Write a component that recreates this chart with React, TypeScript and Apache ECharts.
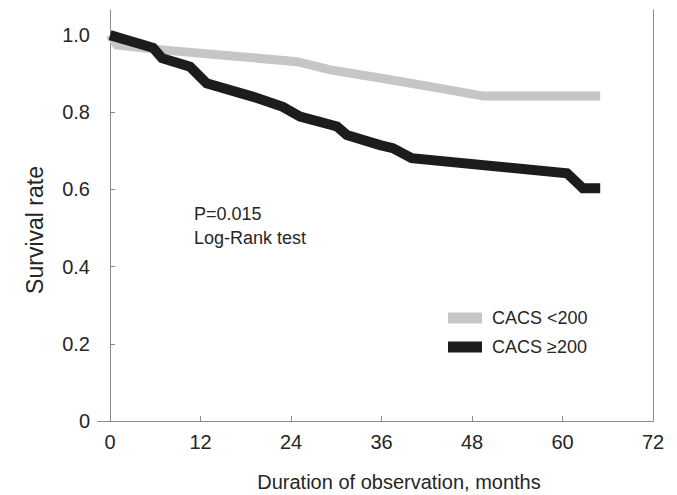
import React, { useEffect, useRef } from "react";
import * as echarts from "echarts";

// Kaplan-Meier style survival curves
const lowMonths = [0, 0.9, 6.2, 15.0, 24.8, 29.2, 36.0, 43.8, 49.5, 65.0];
const lowSurvival = [1.0, 0.974, 0.963, 0.948, 0.931, 0.91, 0.888, 0.862, 0.842, 0.842];

const highMonths = [0, 5.7, 6.9, 10.6, 12.8, 19.0, 22.9, 25.2, 30.1, 31.4, 35.8, 37.5, 40.0, 60.6, 62.7, 65.0];
const highSurvival = [1.0, 0.967, 0.94, 0.918, 0.875, 0.84, 0.814, 0.789, 0.763, 0.741, 0.715, 0.707, 0.681, 0.642, 0.603, 0.603];

const seriesNames = ["CACS <200", "CACS \u2265200"];
const xTicks = [0, 12, 24, 36, 48, 60, 72];
const yTicks = [0, 0.2, 0.4, 0.6, 0.8, 1.0];
const annotations = ["P=0.015", "Log-Rank test"];
const xTitle = "Duration of observation, months";
const yTitle = "Survival rate";

const FONT = "'Liberation Sans', Arial, Helvetica, sans-serif";
const TEXT = "#262626";
const AXIS = "#8a8a8a";

export default function App() {
  const ref = useRef<HTMLDivElement>(null);
  useEffect(() => {
    if (!ref.current) return;
    const chart = echarts.init(ref.current, undefined, { renderer: "svg" });
    const lowData = lowMonths.map((m, i) => [m, lowSurvival[i]]);
    const highData = highMonths.map((m, i) => [m, highSurvival[i]]);
    chart.setOption({
      animation: false,
      backgroundColor: "#fff",
      textStyle: { fontFamily: FONT },
      grid: { left: 98, right: 24, top: 10, bottom: 74, containLabel: false },
      xAxis: {
        type: "value",
        min: -1.6,
        max: 72,
        axisLine: { show: true, lineStyle: { color: AXIS, width: 1 } },
        axisTick: { show: true, inside: true, length: 5, lineStyle: { color: AXIS }, customValues: xTicks },
        axisLabel: {
          customValues: xTicks,
          color: TEXT,
          fontSize: 20,
          fontFamily: FONT,
          margin: 11,
          formatter: (v: number) => String(v),
        },
        splitLine: { show: false },
      },
      yAxis: [
        {
          type: "value",
          min: 0,
          max: 1.065,
          axisLine: { show: true, lineStyle: { color: AXIS, width: 1 } },
          axisTick: { show: true, inside: true, length: 5, lineStyle: { color: AXIS }, customValues: yTicks },
          axisLabel: {
            customValues: yTicks,
            color: TEXT,
            fontSize: 20,
            fontFamily: FONT,
            margin: 8,
            formatter: (v: number) => (v === 0 ? "0" : v.toFixed(1)),
          },
          splitLine: { show: false },
        },
        {
          type: "value",
          position: "right",
          min: 0,
          max: 1.065,
          axisLine: { show: true, lineStyle: { color: AXIS, width: 1 } },
          axisTick: { show: false },
          axisLabel: { show: false },
          splitLine: { show: false },
        },
      ],
      legend: {
        orient: "vertical",
        left: 448,
        top: 309,
        padding: 0,
        itemWidth: 34,
        itemHeight: 11,
        itemGap: 11,
        icon: "rect",
        textStyle: { color: TEXT, fontSize: 18, fontFamily: FONT, padding: [0, 0, 0, 5] },
        data: seriesNames,
      },
      series: [
        {
          name: seriesNames[0],
          type: "line",
          data: lowData,
          showSymbol: false,
          symbol: "none",
          color: "#c6c6c6",
          lineStyle: { color: "#c6c6c6", width: 9, join: "miter" },
          z: 2,
        },
        {
          name: seriesNames[1],
          type: "line",
          data: highData,
          showSymbol: false,
          symbol: "none",
          color: "#1c1c1c",
          lineStyle: { color: "#1c1c1c", width: 10, join: "miter" },
          z: 3,
        },
      ],
      graphic: [
        {
          type: "text",
          left: 194,
          top: 205,
          style: { text: annotations[0], fill: TEXT, fontSize: 18, fontFamily: FONT },
        },
        {
          type: "text",
          left: 194,
          top: 229,
          style: { text: annotations[1], fill: TEXT, fontSize: 18, fontFamily: FONT },
        },
        {
          type: "text",
          x: 399,
          y: 482,
          style: { text: xTitle, fill: TEXT, fontSize: 20, fontFamily: FONT, align: "center", verticalAlign: "middle" },
        },
        {
          type: "text",
          x: 35,
          y: 230,
          rotation: Math.PI / 2,
          style: { text: yTitle, fill: TEXT, fontSize: 23, fontFamily: FONT, align: "center", verticalAlign: "middle" },
        },
      ],
    });
    return () => chart.dispose();
  }, []);
  return (
    <div
      ref={ref}
      style={{ position: "absolute", left: 0, top: 0, width: 677, height: 495, background: "#fff" }}
    />
  );
}
